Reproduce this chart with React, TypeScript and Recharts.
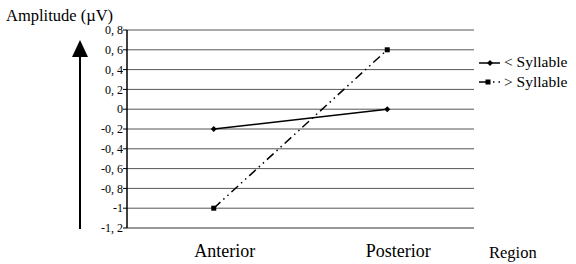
import React from "react";
import { LineChart, Line, XAxis, YAxis, CartesianGrid } from "recharts";

// Amplitude per region, two syllable conditions.
const regions = ["Anterior", "Posterior"];
const lessSyllable = [-0.2, 0];
const moreSyllable = [-1, 0.6];
const yTicks = [-1.2, -1, -0.8, -0.6, -0.4, -0.2, 0, 0.2, 0.4, 0.6, 0.8];
const seriesNames = ["< Syllable", "> Syllable"];

const data = regions.map((r, i) => ({
  region: r,
  less: lessSyllable[i],
  more: moreSyllable[i],
}));

const FONT = "'Times New Roman', 'Liberation Serif', 'DejaVu Serif', serif";
const DASH = "9 4 1.5 4 1.5 4";

const fmtTick = (v: number) =>
  Number.isInteger(v) ? String(v) : v.toFixed(1).replace(".", ", ");

const DiamondDot = (p: any) => {
  const { cx, cy } = p;
  if (cx == null || cy == null) return null;
  return <path d={`M${cx} ${cy - 3}L${cx + 3} ${cy}L${cx} ${cy + 3}L${cx - 3} ${cy}Z`} fill="#000" />;
};

const SquareDot = (p: any) => {
  const { cx, cy } = p;
  if (cx == null || cy == null) return null;
  return <rect x={cx - 2.5} y={cy - 2.5} width={5} height={5} fill="#000" />;
};

const txt = (size: number) => ({ fontFamily: FONT, fontSize: size });

export default function App() {
  return (
    <div
      style={{
        position: "absolute",
        left: 0,
        top: 0,
        width: 576,
        height: 264,
        background: "#fff",
        fontFamily: FONT,
      }}
    >
      <LineChart
        width={576}
        height={264}
        data={data}
        margin={{ top: 30, right: 102, left: 87, bottom: 6 }}
        style={{ fontFamily: FONT }}
      >
        <CartesianGrid vertical={false} stroke="#555" yAxisId="l" />
        <XAxis
          dataKey="region"
          scale="band"
          height={30}
          tickLine={false}
          axisLine={{ stroke: "#888" }}
          tickMargin={10}
          tick={{ fill: "#000", dx: 11, style: txt(18) }}
        />
        <YAxis
          yAxisId="l"
          domain={[-1.2, 0.8]}
          ticks={yTicks}
          width={40}
          tickSize={4}
          tickMargin={0}
          interval={0}
          tickFormatter={fmtTick}
          axisLine={{ stroke: "#000", strokeWidth: 1.5 }}
          tickLine={{ stroke: "#000" }}
          tick={{ fill: "#000", style: txt(12) }}
        />
        <YAxis
          yAxisId="r"
          orientation="right"
          domain={[-1.2, 0.8]}
          width={0}
          tick={false}
          tickLine={false}
          axisLine={{ stroke: "#888" }}
        />
        <Line
          yAxisId="l"
          dataKey="less"
          name={seriesNames[0]}
          stroke="#000"
          strokeWidth={1.5}
          dot={<DiamondDot />}
          isAnimationActive={false}
        />
        <Line
          yAxisId="l"
          dataKey="more"
          name={seriesNames[1]}
          stroke="#000"
          strokeWidth={1.5}
          strokeDasharray={DASH}
          dot={<SquareDot />}
          isAnimationActive={false}
        />
      </LineChart>
      <svg
        width={576}
        height={264}
        style={{ position: "absolute", left: 0, top: 0, pointerEvents: "none" }}
      >
        <text x={6} y={21} style={txt(16.5)} fill="#000">
          Amplitude (µV)
        </text>
        <line x1={80} y1={229} x2={80} y2={55} stroke="#000" strokeWidth={2} />
        <path d="M80 40L88 57L72 57Z" fill="#000" />
        <text x={489} y={258} style={txt(16.5)} fill="#000">
          Region
        </text>
        {/* legend */}
        <line x1={479} y1={63} x2={500} y2={63} stroke="#000" strokeWidth={1.5} />
        <DiamondDot cx={490} cy={63} />
        <text x={504} y={67} style={txt(15.5)} fill="#000">
          {seriesNames[0]}
        </text>
        <line x1={479} y1={82} x2={500} y2={82} stroke="#000" strokeWidth={1.5} strokeDasharray="10 4 1.5 4" />
        <SquareDot cx={488} cy={82} />
        <text x={504} y={87} style={txt(15.5)} fill="#000">
          {seriesNames[1]}
        </text>
      </svg>
    </div>
  );
}
